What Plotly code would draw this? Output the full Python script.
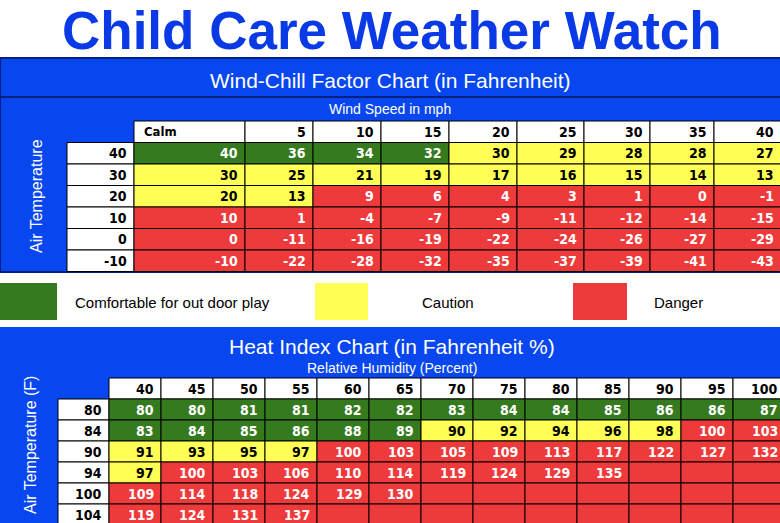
import plotly.graph_objects as go

wind_speeds = ["Calm", "5", "10", "15", "20", "25", "30", "35", "40"]
air_temps_wc = [40, 30, 20, 10, 0, -10]
wind_chill = [
    [40, 36, 34, 32, 30, 29, 28, 28, 27],
    [30, 25, 21, 19, 17, 16, 15, 14, 13],
    [20, 13, 9, 6, 4, 3, 1, 0, -1],
    [10, 1, -4, -7, -9, -11, -12, -14, -15],
    [0, -11, -16, -19, -22, -24, -26, -27, -29],
    [-10, -22, -28, -32, -35, -37, -39, -41, -43],
]
humidity = [40, 45, 50, 55, 60, 65, 70, 75, 80, 85, 90, 95, 100]
air_temps_hi = [80, 84, 90, 94, 100, 104]
N = None
heat_index = [
    [80, 80, 81, 81, 82, 82, 83, 84, 84, 85, 86, 86, 87],
    [83, 84, 85, 86, 88, 89, 90, 92, 94, 96, 98, 100, 103],
    [91, 93, 95, 97, 100, 103, 105, 109, 113, 117, 122, 127, 132],
    [97, 100, 103, 106, 110, 114, 119, 124, 129, 135, N, N, N],
    [109, 114, 118, 124, 129, 130, N, N, N, N, N, N, N],
    [119, 124, 131, 137, N, N, N, N, N, N, N, N, N],
]
legend_labels = ["Comfortable for out door play", "Caution", "Danger"]

GREEN, YELLOW, RED, BLUE = "#357a1f", "#ffff55", "#ee3a3a", "#0847f0"
CELLFONT = "Liberation Sans Narrow, Arial Narrow, DejaVu Sans Condensed, Arial"

def wc_col(v, i, j):
    if v >= 31: return GREEN
    if i == 1 or (i == 2 and j < 2): return YELLOW
    if i == 0: return YELLOW
    return RED

def hi_col(v):
    if v is None: return RED
    return GREEN if v < 90 else (YELLOW if v < 100 else RED)

shapes, ann = [], []

def rect(x0, y0, x1, y1, fill, lw=1, lc="black"):
    shapes.append(dict(type="rect", xref="x", yref="y", x0=x0, y0=y0, x1=x1, y1=y1,
                       fillcolor=fill, line=dict(color=lc, width=lw), layer="below"))

def text(x, y, s, size=14, color="black", anchor="right", font=CELLFONT, bold=True, angle=0):
    ann.append(dict(x=x, y=y, xref="x", yref="y", text=f"<b>{s}</b>" if bold else s,
                    showarrow=False, xanchor=anchor, yanchor="middle", textangle=angle,
                    font=dict(size=size, color=color, family=font)))

text(392, 30, "Child Care Weather Watch", size=53, color="#0a3ae6", anchor="center",
     font="Liberation Sans, Arial", bold=True)

# Wind chill panel
rect(0, 58, 790, 272, BLUE, lw=2, lc="#002080")
shapes.append(dict(type="line", xref="x", yref="y", x0=0, x1=790, y0=97, y1=97, line=dict(color="#002080", width=2)))
text(390, 80, "Wind-Chill Factor Chart (in Fahrenheit)", size=21, color="white", anchor="center", font="Liberation Sans, Arial", bold=False)
text(390, 109, "Wind Speed in mph", size=14, color="white", anchor="center", font="Liberation Sans, Arial", bold=False)
text(36, 196, "Air Temperature", size=16, color="white", anchor="center", font="Liberation Sans, Arial", bold=False, angle=-90)
xe = [134, 245, 313, 381, 449, 517, 584, 650, 714, 781]
y_top, rh = 121, 21.5
for j, s in enumerate(wind_speeds):
    rect(xe[j], y_top, xe[j + 1], y_top + rh, "white")
    if j == 0:
        text(xe[0] + 8, y_top + rh / 2, s, size=13, anchor="left")
    else:
        text(xe[j + 1] - 5, y_top + rh / 2, s, size=14)
for i, t in enumerate(air_temps_wc):
    y0 = y_top + rh * (i + 1)
    rect(67, y0, 134, y0 + rh, "white")
    text(129, y0 + rh / 2, t, size=14)
    for j, v in enumerate(wind_chill[i]):
        c = wc_col(v, i, j)
        rect(xe[j], y0, xe[j + 1], y0 + rh, c)
        text(xe[j + 1] - 5, y0 + rh / 2, v, size=14, color="black" if c == YELLOW else "white")

# Legend
lg = [(0, 57, GREEN, 73), (315, 368, YELLOW, 420), (573, 627, RED, 652)]
for (x0, x1, c, tx), lab in zip(lg, legend_labels):
    rect(x0, 283, x1, 320, c, lw=0)
    text(tx, 302, lab, size=15, anchor="left", font="Liberation Sans, Arial", bold=False)

# Heat index panel
rect(0, 327, 790, 530, BLUE, lw=0)
text(392, 346, "Heat Index Chart (in Fahrenheit %)", size=21, color="white", anchor="center", font="Liberation Sans, Arial", bold=False)
text(392, 368, "Relative Humidity (Percent)", size=14, color="white", anchor="center", font="Liberation Sans, Arial", bold=False)
text(30, 445, "Air Temperature (F)", size=16, color="white", anchor="center", font="Liberation Sans, Arial", bold=False, angle=-90)
hx = [109 + 52 * k for k in range(len(humidity) + 1)]
hy, hh = 378, 21
for j, s in enumerate(humidity):
    rect(hx[j], hy, hx[j + 1], hy + hh, "white")
    text(hx[j + 1] - 5, hy + hh / 2, s, size=14)
for i, t in enumerate(air_temps_hi):
    y0 = hy + hh * (i + 1)
    rect(58, y0, 109, y0 + hh, "white")
    text(104, y0 + hh / 2, t, size=14)
    for j, v in enumerate(heat_index[i]):
        c = hi_col(v)
        rect(hx[j], y0, hx[j + 1], y0 + hh, c)
        if v is not None:
            text(hx[j + 1] - 5, y0 + hh / 2, v, size=14, color="black" if c == YELLOW else "white")

fig = go.Figure(go.Scatter(x=[0, 780], y=[0, 523], mode="markers", marker=dict(opacity=0), hoverinfo="skip"))
fig.update_layout(width=780, height=523, margin=dict(l=0, r=0, t=0, b=0),
                  plot_bgcolor="white", paper_bgcolor="white", shapes=shapes, annotations=ann,
                  showlegend=False,
                  xaxis=dict(range=[0, 780], visible=False, fixedrange=True),
                  yaxis=dict(range=[523, 0], visible=False, fixedrange=True))
fig.write_html("out.html", config={"displayModeBar": False})
with open("out.html", encoding="utf-8") as f:
    html = f.read()
html = html.replace("<head>", "<head><style>html,body{margin:0;padding:0;overflow:hidden}</style>", 1)
with open("out.html", "w", encoding="utf-8") as f:
    f.write(html)
